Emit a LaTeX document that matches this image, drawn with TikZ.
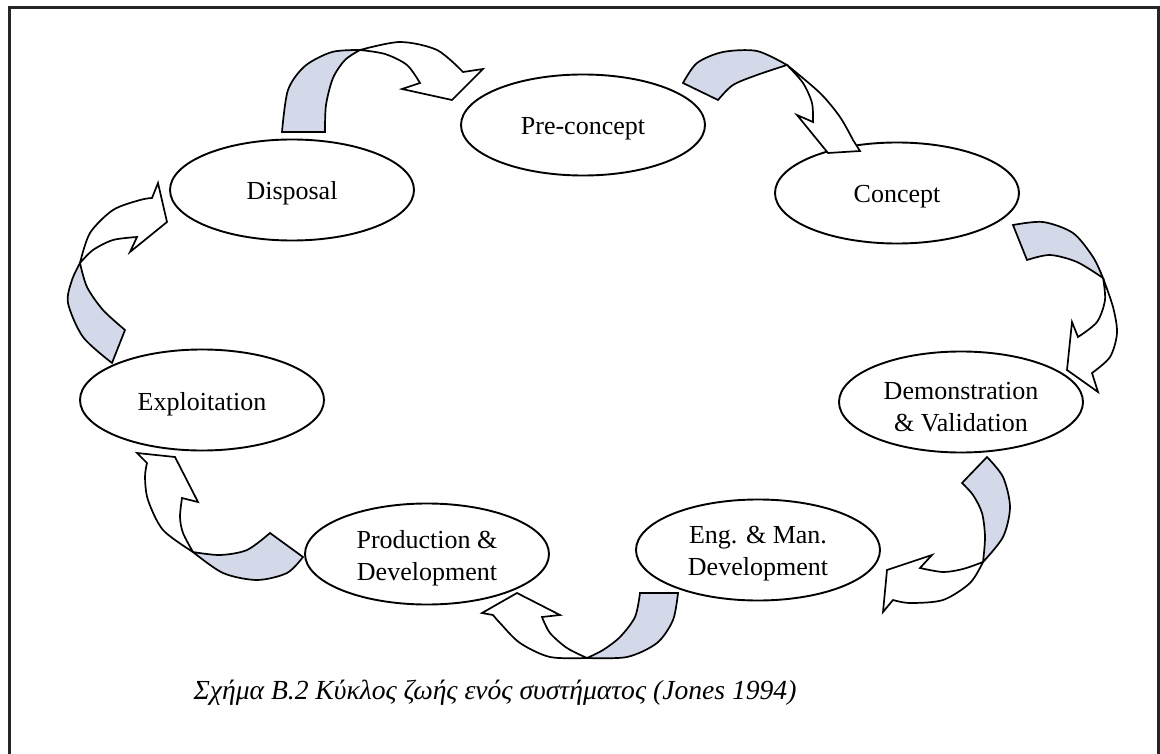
\documentclass[tikz,border=0pt]{standalone}
\usepackage{fontspec}
\setmainfont{Liberation Serif}
\usetikzlibrary{shapes.geometric}
\definecolor{backface}{RGB}{211,217,232}
\begin{document}
\begin{tikzpicture}[x=1pt,y=-1pt,
  phase/.style={ellipse, draw, line width=1.9pt, minimum width=244pt,
    minimum height=101pt, inner sep=0pt},
  phasetext/.style={align=center, inner sep=0pt,
    font=\fontsize{26}{32}\selectfont},
  twist/.style={draw, line width=1.7pt, line join=miter, fill=backface},
  headpart/.style={draw, line width=1.7pt, line join=miter, fill=white},
  frameline/.style={line width=3pt, black!85}]
\useasboundingbox (0,0) rectangle (1160,754);

% frame
\draw[frameline] (9,760) -- (9,8) -- (1158,8) -- (1158,760);

% life-cycle phases
\node[phase] (pre)  at (583,125) {};
\node[phase] (con)  at (897,193) {};
\node[phase] (dis)  at (292,190) {};
\node[phase] (dem)  at (961,402) {};
\node[phase] (exp)  at (202,400) {};
\node[phase] (prod) at (427,554) {};
\node[phase] (eng)  at (758,550) {};

\node[phasetext] (preT)  at ([yshift=-4pt]pre.center)  {Pre-concept};
\node[phasetext] (conT)  at ([yshift=-4pt]con.center)  {Concept};
\node[phasetext] (disT)  at ([yshift=-3pt]dis.center)  {Disposal};
\node[phasetext] (demT)  at ([yshift=-5pt]dem.center)  {Demonstration\\\& Validation};
\node[phasetext] (expT)  at ([yshift=-4pt]exp.center)  {Exploitation};
\node[phasetext] (prodT) at ([yshift=-4pt]prod.center) {Production \&\\Development};
\node[phasetext] (engT)  at ([yshift=-4pt]eng.center)  {Eng. \& Man.\\Development};

% Disposal -> Pre-concept
\path[twist] plot[smooth] coordinates {(282,132) (288,90) (305,66) (332,52) (360,50)}
  -- plot[smooth] coordinates {(360,50) (345,60) (333,78) (326,105) (325,132)} -- cycle;
\path[headpart] plot[smooth] coordinates {(360,50) (400,42) (437,50) (463,72)}
  -- (483,69) -- (452,100) -- (402,89) -- (420,83)
  -- plot[smooth] coordinates {(420,83) (407,65) (385,54) (360,50)} -- cycle;

% Pre-concept -> Concept
\path[twist] plot[smooth] coordinates {(683,83) (697,63) (723,52) (757,51) (787,65)}
  -- plot[smooth] coordinates {(787,65) (757,75) (733,85) (718,100)} -- cycle;
\path[headpart] plot[smooth] coordinates {(787,65) (820,93) (840,117) (853,140)}
  -- (860,151) -- (828,153) -- (797,115) -- (813,122)
  -- plot[smooth] coordinates {(813,122) (812,103) (803,83) (787,65)} -- cycle;

% Concept -> Demonstration & Validation
\path[twist] plot[smooth] coordinates {(1013,225) (1043,222) (1073,233) (1093,257) (1103,278)}
  -- plot[smooth] coordinates {(1103,278) (1077,262) (1050,255) (1027,260)} -- cycle;
\path[headpart] plot[smooth] coordinates {(1103,278) (1113,307) (1117,333) (1110,357) (1092,373)}
  -- (1098,392) -- (1067,370) -- (1072,322) -- (1078,337)
  -- plot[smooth] coordinates {(1078,337) (1097,322) (1105,300) (1103,278)} -- cycle;

% Demonstration & Validation -> Eng. & Man. Development
\path[twist] plot[smooth] coordinates {(987,457) (1003,477) (1010,507) (1003,537) (983,562)}
  -- plot[smooth] coordinates {(983,562) (985,537) (982,513) (973,495) (962,483)} -- cycle;
\path[headpart] plot[smooth] coordinates {(983,562) (970,583) (943,600) (910,603) (893,600)}
  -- (883,612) -- (887,570) -- (932,555) -- (920,568)
  -- plot[smooth] coordinates {(920,568) (943,572) (963,569) (983,562)} -- cycle;

% Eng. & Man. Development -> Production & Development
\path[twist] plot[smooth] coordinates {(678,593) (673,620) (657,643) (627,657) (587,658)}
  -- plot[smooth] coordinates {(587,658) (603,650) (620,637) (635,617) (640,593)} -- cycle;
\path[headpart] plot[smooth] coordinates {(587,658) (550,657) (520,643) (500,623) (493,615)}
  -- (482,613) -- (517,593) -- (560,615) -- (542,617)
  -- plot[smooth] coordinates {(542,617) (550,633) (567,648) (587,658)} -- cycle;

% Production & Development -> Exploitation
\path[twist] plot[smooth] coordinates {(270,533) (247,550) (220,555) (193,552)}
  -- plot[smooth] coordinates {(193,552) (223,573) (257,580) (287,573) (303,557)} -- cycle;
\path[headpart] plot[smooth] coordinates {(193,552) (163,530) (148,500) (145,477) (147,463)}
  -- (137,453) -- (175,457) -- (198,502) -- (182,498)
  -- plot[smooth] coordinates {(182,498) (180,517) (183,533) (193,552)} -- cycle;

% Exploitation -> Disposal
\path[twist] plot[smooth] coordinates {(112,363) (83,337) (68,303) (72,280) (80,263)}
  -- plot[smooth] coordinates {(80,263) (87,287) (103,310) (125,330)} -- cycle;
\path[headpart] plot[smooth] coordinates {(80,263) (90,233) (113,210) (140,200) (152,198)}
  -- (158,183) -- (167,222) -- (130,252) -- (137,237)
  -- plot[smooth] coordinates {(137,237) (113,240) (93,250) (80,263)} -- cycle;

% caption
\node[font=\itshape\fontsize{27.6}{32}\selectfont] (cap) at (495,693)
  {Σχήμα Β.2 Κύκλος ζωής ενός συστήματος (Jones 1994)};
\end{tikzpicture}
\end{document}
